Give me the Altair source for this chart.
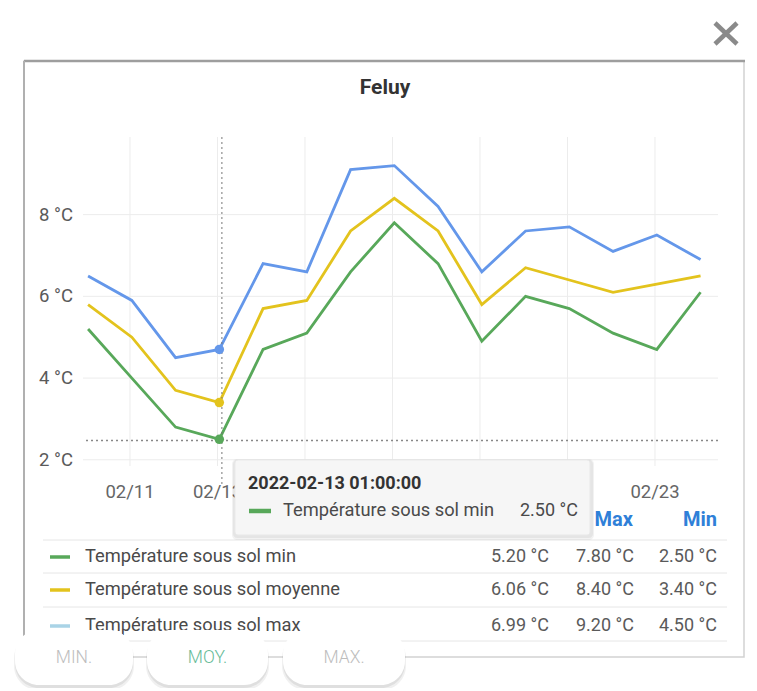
import altair as alt
import pandas as pd

# ---------------- data ----------------
dates = [
    "2022-02-10T01:00:00Z", "2022-02-11T01:00:00Z", "2022-02-12T01:00:00Z",
    "2022-02-13T01:00:00Z", "2022-02-14T01:00:00Z", "2022-02-15T01:00:00Z",
    "2022-02-16T01:00:00Z", "2022-02-17T01:00:00Z", "2022-02-18T01:00:00Z",
    "2022-02-19T01:00:00Z", "2022-02-20T01:00:00Z", "2022-02-21T01:00:00Z",
    "2022-02-22T01:00:00Z", "2022-02-23T01:00:00Z", "2022-02-24T01:00:00Z",
]
t_min = [5.2, 4.0, 2.8, 2.5, 4.7, 5.1, 6.6, 7.8, 6.8, 4.9, 6.0, 5.7, 5.1, 4.7, 6.1]
t_moy = [5.8, 5.0, 3.7, 3.4, 5.7, 5.9, 7.6, 8.4, 7.6, 5.8, 6.7, 6.4, 6.1, 6.3, 6.5]
t_max = [6.5, 5.9, 4.5, 4.7, 6.8, 6.6, 9.1, 9.2, 8.2, 6.6, 7.6, 7.7, 7.1, 7.5, 6.9]

series_names = ["Température sous sol min", "Température sous sol moyenne", "Température sous sol max"]
series_colors = ["#58a85a", "#e3c31d", "#6497ea"]
legend_colors = ["#58a85a", "#e3c31d", "#a9d3e6"]

table_avg = [5.20, 6.06, 6.99]
table_max = [7.80, 8.40, 9.20]
table_min = [2.50, 3.40, 4.50]
table_headers = ["Max", "Min"]

y_ticks = [2, 4, 6, 8]
y_tick_labels = ["2 °C", "4 °C", "6 °C", "8 °C"]
grid_dates = ["2022-02-11T00:00:00Z", "2022-02-13T00:00:00Z", "2022-02-15T00:00:00Z",
              "2022-02-17T00:00:00Z", "2022-02-19T00:00:00Z", "2022-02-21T00:00:00Z",
              "2022-02-23T00:00:00Z"]
# labels hidden behind the tooltip in the reference are left blank
grid_labels = ["02/11", "02/13", "", "", "", "", "02/23"]

hover_index = 3
hover_label = "2022-02-13 01:00:00"
cursor_date = "2022-02-13T02:25:00Z"
cursor_value = 2.47
title = "Feluy"
buttons = ["MIN.", "MOY.", "MAX."]
button_colors = ["#bdbdbd", "#66bb98", "#bdbdbd"]

# ---------------- helpers ----------------
FONT = "Roboto"


def P(v):
    return v - 8


one = pd.DataFrame({"k": [0]})


def rect(x1, y1, x2, y2, **kw):
    return alt.Chart(one).mark_rect(**kw).encode(
        x=alt.value(P(x1)), x2=alt.value(P(x2)), y=alt.value(P(y1)), y2=alt.value(P(y2)))


def seg(x1, y1, x2, y2, **kw):
    return alt.Chart(one).mark_rule(**kw).encode(
        x=alt.value(P(x1)), x2=alt.value(P(x2)), y=alt.value(P(y1)), y2=alt.value(P(y2)))


def text(x, y, s, **kw):
    kw.setdefault("baseline", "middle")
    kw.setdefault("font", FONT)
    return alt.Chart(pd.DataFrame({"t": [s]})).mark_text(**kw).encode(
        x=alt.value(P(x)), y=alt.value(P(y)), text="t:N")


xscale = alt.Scale(
    type="utc",
    domain=[alt.DateTime(year=2022, month=2, date=9, hours=22, minutes=13, utc=True),
            alt.DateTime(year=2022, month=2, date=24, hours=10, minutes=34, utc=True)],
    range=[P(83), P(718)],
)
yscale = alt.Scale(domain=[1.75, 9.9], range=[P(470), P(137)], zero=False, nice=False)

X = lambda f: alt.X(f, type="temporal", scale=xscale, axis=None)
Y = lambda f: alt.Y(f, type="quantitative", scale=yscale, axis=None)

layers = []

# card
layers.append(rect(24, 61, 744, 657, fill="white", stroke="#d2d2d2", strokeWidth=1.5))
layers.append(seg(24, 61, 745, 61, color="#9e9e9e", strokeWidth=2.5))
layers.append(seg(24, 61, 24, 640, color="#b0b0b0", strokeWidth=2))

# grid
ydf = pd.DataFrame({"v": y_ticks, "label": y_tick_labels})
gdf = pd.DataFrame({"d": grid_dates, "label": grid_labels})
layers.append(alt.Chart(ydf).mark_rule(color="#ececec", strokeWidth=1).encode(
    y=Y("v"), x=alt.value(P(83)), x2=alt.value(P(718))))
layers.append(alt.Chart(gdf).mark_rule(color="#ececec", strokeWidth=1).encode(
    x=X("d"), y=alt.value(P(137)), y2=alt.value(P(466))))

# axis labels
layers.append(alt.Chart(ydf).mark_text(align="right", baseline="middle", font=FONT,
                                       fontSize=18.5, color="#5a5a5a").encode(
    y=Y("v"), x=alt.value(P(73)), text="label:N"))
layers.append(alt.Chart(gdf).mark_text(align="center", baseline="middle", font=FONT,
                                       fontSize=18.5, color="#666").encode(
    x=X("d"), y=alt.value(P(492)), text="label:N"))

# title
layers.append(text(385, 88, title, align="center", fontSize=21, fontWeight="bold", color="#333"))

# lines
rows = []
for name, vals in zip(series_names, [t_min, t_moy, t_max]):
    for d, v in zip(dates, vals):
        rows.append({"date": d, "value": v, "series": name})
ldf = pd.DataFrame(rows)
color = alt.Color("series:N", scale=alt.Scale(domain=series_names, range=series_colors), legend=None)
layers.append(alt.Chart(ldf).mark_line(strokeWidth=2.8).encode(
    x=X("date"), y=Y("value"), color=color, order=alt.Order("date:T")))

# crosshair
layers.append(alt.Chart(pd.DataFrame({"d": [cursor_date]})).mark_rule(
    color="#777", strokeWidth=1, strokeDash=[2, 3]).encode(
    x=X("d"), y=alt.value(P(137)), y2=alt.value(P(486))))
layers.append(alt.Chart(pd.DataFrame({"v": [cursor_value]})).mark_rule(
    color="#888", strokeWidth=1.5, strokeDash=[2, 3]).encode(
    y=Y("v"), x=alt.value(P(86)), x2=alt.value(P(718))))

# hover points
hdf = pd.DataFrame({
    "date": [dates[hover_index]] * 3,
    "value": [t_min[hover_index], t_moy[hover_index], t_max[hover_index]],
    "series": series_names,
})
layers.append(alt.Chart(hdf).mark_circle(size=90, opacity=1).encode(
    x=X("date"), y=Y("value"), color=color))

# table header
header_right = [633, 717]
for h, xr in zip(table_headers, header_right):
    layers.append(text(xr, 520, h, align="right", fontSize=20, fontWeight="bold", color="#2f80d8"))

# table separators
for yy in [540, 573, 607, 641]:
    layers.append(seg(43, yy, 727, yy, color="#e6e6e6", strokeWidth=1))

# table rows
row_y = [557, 590, 626]
for i in range(3):
    yy = row_y[i]
    layers.append(seg(50, yy, 70, yy, color=legend_colors[i], strokeWidth=3.5))
    layers.append(text(85, yy, series_names[i], align="left", fontSize=18.3, color="#4a4a4a"))
    for val, xr in zip([table_avg[i], table_max[i], table_min[i]], [549, 634, 717]):
        layers.append(text(xr, yy, f"{val:.2f} °C", align="right", fontSize=18, color="#5a5a5a"))

# tooltip
layers.append(rect(232, 459, 594, 540, fill="#000", opacity=0.05, cornerRadius=5))
layers.append(rect(233, 460, 593, 538, fill="#000", opacity=0.05, cornerRadius=4))
layers.append(rect(235, 460, 590, 535, fill="#f6f6f6", stroke="#e9e9e9", strokeWidth=1, cornerRadius=3))
layers.append(text(248, 484, hover_label, align="left", fontSize=18, fontWeight="bold", color="#333"))
layers.append(seg(249, 511, 271, 511, color=series_colors[0], strokeWidth=4.5))
layers.append(text(283, 511, series_names[0], align="left", fontSize=18.3, color="#4a4a4a"))
layers.append(text(578, 511, f"{t_min[hover_index]:.2f} °C", align="right", fontSize=18, color="#4a4a4a"))

# buttons
bx = [(15, 133), (147, 268), (283, 405)]
for (x1, x2), lab, col in zip(bx, buttons, button_colors):
    layers.append(rect(x1 - 1, 634, x2 + 1, 690, fill="#000", opacity=0.06, cornerRadius=24))
    layers.append(rect(x1, 633, x2, 688, fill="#000", opacity=0.07, cornerRadius=24))
    layers.append(rect(x1, 630, x2, 685, fill="white", cornerRadius=24))
    layers.append(text((x1 + x2) / 2, 658, lab, align="center", fontSize=17.5, fontWeight=300, color=col))

# close icon
layers.append(seg(715, 23, 737, 44, color="#8a8a8a", strokeWidth=4.5))
layers.append(seg(737, 23, 715, 44, color="#8a8a8a", strokeWidth=4.5))

chart = alt.layer(*layers).properties(
    width=741, height=680,
    autosize=alt.AutoSizeParams(type="none"),
    padding=0,
    background="white",
).configure(font=FONT, view=alt.ViewConfig(strokeWidth=0))

chart.save("out.html", embed_options={"renderer": "svg", "actions": False})
